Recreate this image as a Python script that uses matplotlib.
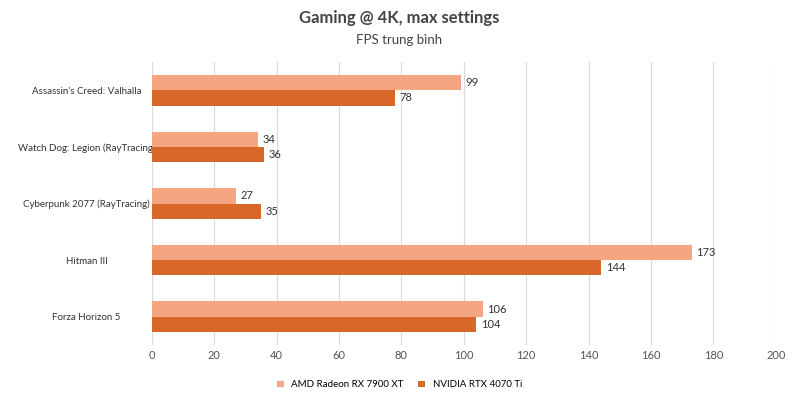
import matplotlib
matplotlib.use("Agg")
import matplotlib.pyplot as plt
import numpy as np

games = ["Assassin's Creed: Valhalla", "Watch Dog: Legion (RayTracing)", "Cyberpunk 2077 (RayTracing)", "Hitman III", "Forza Horizon 5"]
amd = [99, 34, 27, 173, 106]
nvidia = [78, 36, 35, 144, 104]
series_names = ["AMD Radeon RX 7900 XT", "NVIDIA RTX 4070 Ti"]
xticks = [0, 20, 40, 60, 80, 100, 120, 140, 160, 180, 200]

c_amd = "#F4A582"
c_nv = "#D8672A"
plt.rcParams["font.family"] = "Lato"

fig = plt.figure(figsize=(7.99, 4.03), dpi=100)
ax = fig.add_axes([0.190, 0.144, 0.781, 0.702])
y = np.arange(len(games))
h = 0.27
b1 = ax.barh(y - h/2, amd, height=h, color=c_amd, label=series_names[0], zorder=3)
b2 = ax.barh(y + h/2, nvidia, height=h, color=c_nv, label=series_names[1], zorder=3)
for bars in (b1, b2):
    for r in bars:
        ax.text(r.get_width() + 1.5, r.get_y() + r.get_height()/2, f"{int(r.get_width())}",
                va="center", ha="left", fontsize=8, color="#333333")
ax.set_yticks(y)
ax.set_yticklabels(games, fontsize=7, color="#333333", ha="center")
ax.set_ylim(len(games) - 0.5, -0.5)
ax.set_xlim(0, 200)
ax.set_xticks(xticks)
ax.tick_params(axis="x", labelsize=8, colors="#555555", length=0)
ax.tick_params(axis="y", length=0, pad=47)
ax.grid(axis="x", color="#d9d9d9", linewidth=0.8, zorder=0)
for s in ax.spines.values():
    s.set_visible(False)
fig.text(0.5, 0.955, "Gaming @ 4K, max settings", ha="center", va="center", fontsize=12, fontweight="bold", color="#444444")
fig.text(0.5, 0.90, "FPS trung bình", ha="center", va="center", fontsize=9.5, color="#444444")
fig.legend(loc="center", bbox_to_anchor=(0.5, 0.045), ncol=2, frameon=False, fontsize=7,
           handlelength=0.7, handleheight=0.7, columnspacing=1.5)
fig.savefig("out.png", dpi=100)
